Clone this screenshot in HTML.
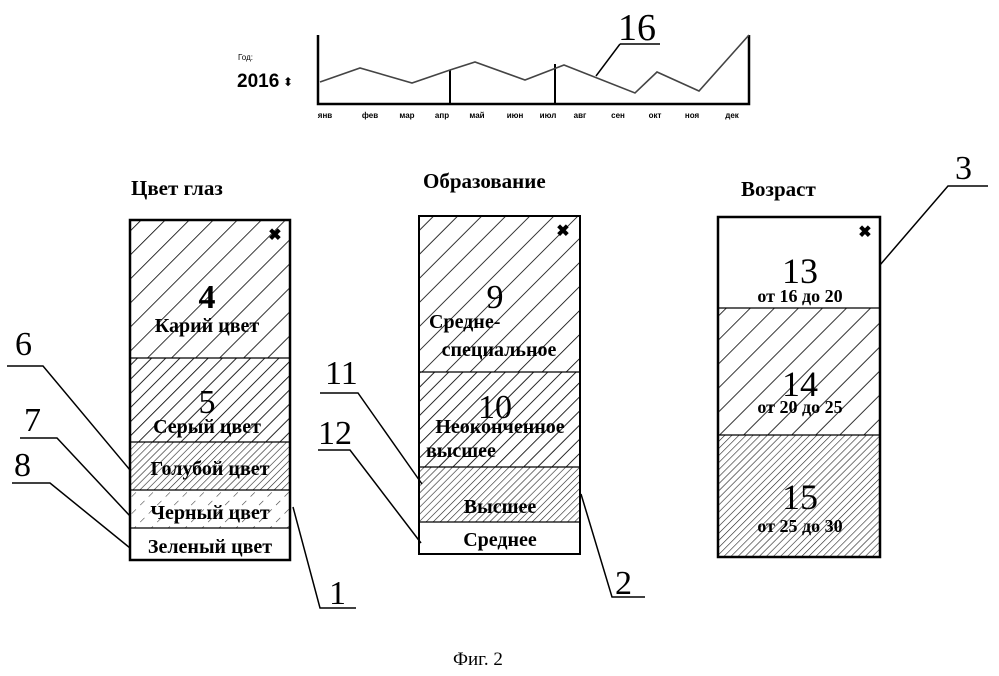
<!DOCTYPE html>
<html><head><meta charset="utf-8"><style>
html,body{margin:0;padding:0;background:#fff;}
svg{display:block;}
.s{font-family:"Liberation Serif",serif;fill:#000;}
.a{font-family:"Liberation Sans",sans-serif;fill:#000;}
</style></head><body>
<svg width="999" height="676" viewBox="0 0 999 676" xmlns="http://www.w3.org/2000/svg">
<defs>
<pattern id="h1" patternUnits="userSpaceOnUse" width="17" height="17" patternTransform="rotate(45)"><line x1="0" y1="0" x2="0" y2="17" stroke="#000" stroke-width="1.6"/></pattern>
<pattern id="h2" patternUnits="userSpaceOnUse" width="10" height="10" patternTransform="rotate(45)"><line x1="0" y1="0" x2="0" y2="10" stroke="#000" stroke-width="1.7"/></pattern>
<pattern id="h3" patternUnits="userSpaceOnUse" width="5" height="5" patternTransform="rotate(45)"><line x1="0" y1="0" x2="0" y2="5" stroke="#222" stroke-width="1.2"/></pattern>
<pattern id="h4" patternUnits="userSpaceOnUse" width="12" height="12" patternTransform="rotate(45)"><line x1="0" y1="0" x2="0" y2="6" stroke="#444" stroke-width="1.2"/></pattern>
</defs>

<!-- chart -->
<text x="238" y="60" class="a" font-size="8">Год:</text>
<text x="237" y="87" class="a" font-size="19" font-weight="bold">2016</text>
<text x="283" y="86" class="a" font-size="12">⬍</text>
<polyline points="318,35 318,104 749,104 749,35" fill="none" stroke="#000" stroke-width="2.5"/>
<line x1="450" y1="70" x2="450" y2="104" stroke="#000" stroke-width="2"/>
<line x1="555" y1="64" x2="555" y2="104" stroke="#000" stroke-width="2"/>
<polyline points="320,82 360,68 412,83 450,70 475,62 525,80 564,65 635,93 657,72 699,91 749,35" fill="none" stroke="#444" stroke-width="1.6"/>
<g class="a" font-size="8" font-weight="bold" text-anchor="middle">
<text x="325" y="118">янв</text><text x="370" y="118">фев</text><text x="407" y="118">мар</text><text x="442" y="118">апр</text><text x="477" y="118">май</text><text x="515" y="118">июн</text><text x="548" y="118">июл</text><text x="580" y="118">авг</text><text x="618" y="118">сен</text><text x="655" y="118">окт</text><text x="692" y="118">ноя</text><text x="732" y="118">дек</text>
</g>
<text x="618" y="40" class="s" font-size="38">16</text>
<line x1="620" y1="44" x2="660" y2="44" stroke="#000" stroke-width="1.5"/>
<line x1="620" y1="44" x2="596" y2="76" stroke="#000" stroke-width="1.5"/>

<!-- titles -->
<text x="131" y="195" class="s" font-size="21" font-weight="bold">Цвет глаз</text>
<text x="423" y="188" class="s" font-size="21" font-weight="bold">Образование</text>
<text x="741" y="196" class="s" font-size="21" font-weight="bold">Возраст</text>

<!-- box 1 -->
<rect x="130" y="220" width="160" height="138" fill="url(#h1)"/>
<rect x="130" y="358" width="160" height="84" fill="url(#h2)"/>
<rect x="130" y="442" width="160" height="48" fill="url(#h3)"/>
<rect x="130" y="490" width="160" height="38" fill="url(#h4)"/>
<rect x="130" y="220" width="160" height="340" fill="none" stroke="#000" stroke-width="2.5"/>
<g stroke="#000" stroke-width="1.3"><line x1="130" y1="358" x2="290" y2="358"/><line x1="130" y1="442" x2="290" y2="442"/><line x1="130" y1="490" x2="290" y2="490"/><line x1="130" y1="528" x2="290" y2="528"/></g>
<text x="275" y="240" class="a" font-size="16" font-weight="bold" text-anchor="middle">✖</text>
<g class="s" text-anchor="middle" font-weight="bold">
<text x="207" y="308" font-size="34">4</text>
<text x="207" y="332" font-size="20">Карий  цвет</text>
<text x="207" y="413" font-size="34" font-weight="normal">5</text>
<text x="207" y="433" font-size="20">Серый цвет</text>
<text x="210" y="475" font-size="20">Голубой цвет</text>
<text x="210" y="519" font-size="20">Черный цвет</text>
<text x="210" y="553" font-size="20">Зеленый цвет</text>
</g>

<!-- box 2 -->
<rect x="419" y="216" width="161" height="156" fill="url(#h1)"/>
<rect x="419" y="372" width="161" height="95" fill="url(#h2)"/>
<rect x="419" y="467" width="161" height="55" fill="url(#h3)"/>
<rect x="419" y="216" width="161" height="338" fill="none" stroke="#000" stroke-width="2"/>
<g stroke="#000" stroke-width="1.3"><line x1="419" y1="372" x2="580" y2="372"/><line x1="419" y1="467" x2="580" y2="467"/><line x1="419" y1="522" x2="580" y2="522"/></g>
<text x="563" y="236" class="a" font-size="16" font-weight="bold" text-anchor="middle">✖</text>
<g class="s" font-weight="bold">
<text x="495" y="308" font-size="34" font-weight="normal" text-anchor="middle">9</text>
<text x="429" y="328" font-size="20">Средне-</text>
<text x="499" y="356" font-size="20" text-anchor="middle">специальное</text>
<text x="495" y="418" font-size="34" font-weight="normal" text-anchor="middle">10</text>
<text x="500" y="433" font-size="20" text-anchor="middle">Неоконченное</text>
<text x="426" y="457" font-size="20">высшее</text>
<text x="500" y="513" font-size="20" text-anchor="middle">Высшее</text>
<text x="500" y="546" font-size="20" text-anchor="middle">Среднее</text>
</g>

<!-- box 3 -->
<rect x="718" y="308" width="162" height="127" fill="url(#h1)"/>
<rect x="718" y="435" width="162" height="122" fill="url(#h3)"/>
<rect x="718" y="217" width="162" height="340" fill="none" stroke="#000" stroke-width="2.5"/>
<g stroke="#000" stroke-width="1.3"><line x1="718" y1="308" x2="880" y2="308"/><line x1="718" y1="435" x2="880" y2="435"/></g>
<text x="865" y="237" class="a" font-size="16" font-weight="bold" text-anchor="middle">✖</text>
<g class="s" text-anchor="middle">
<text x="800" y="283" font-size="36">13</text>
<text x="800" y="302" font-size="18" font-weight="bold">от 16 до 20</text>
<text x="800" y="396" font-size="36">14</text>
<text x="800" y="413" font-size="18" font-weight="bold">от 20 до 25</text>
<text x="800" y="509" font-size="36">15</text>
<text x="800" y="532" font-size="18" font-weight="bold">от 25 до 30</text>
</g>

<!-- reference numerals -->
<g class="s" font-size="34">
<text x="15" y="355">6</text>
<text x="24" y="431">7</text>
<text x="14" y="476">8</text>
<text x="325" y="384">11</text>
<text x="318" y="444">12</text>
<text x="329" y="604">1</text>
<text x="615" y="594">2</text>
<text x="955" y="179">3</text>
</g>
<g stroke="#000" stroke-width="1.5" fill="none">
<polyline points="7,366 43,366 130,470"/>
<polyline points="20,438 57,438 130,516"/>
<polyline points="12,483 50,483 130,548"/>
<polyline points="320,393 358,393 422,484"/>
<polyline points="318,450 350,450 421,543"/>
<polyline points="293,507 320,608 356,608"/>
<polyline points="581,494 612,597 645,597"/>
<polyline points="988,186 948,186 880,265"/>
</g>

<text x="453" y="665" class="s" font-size="19">Фиг. 2</text>
</svg>
</body></html>
